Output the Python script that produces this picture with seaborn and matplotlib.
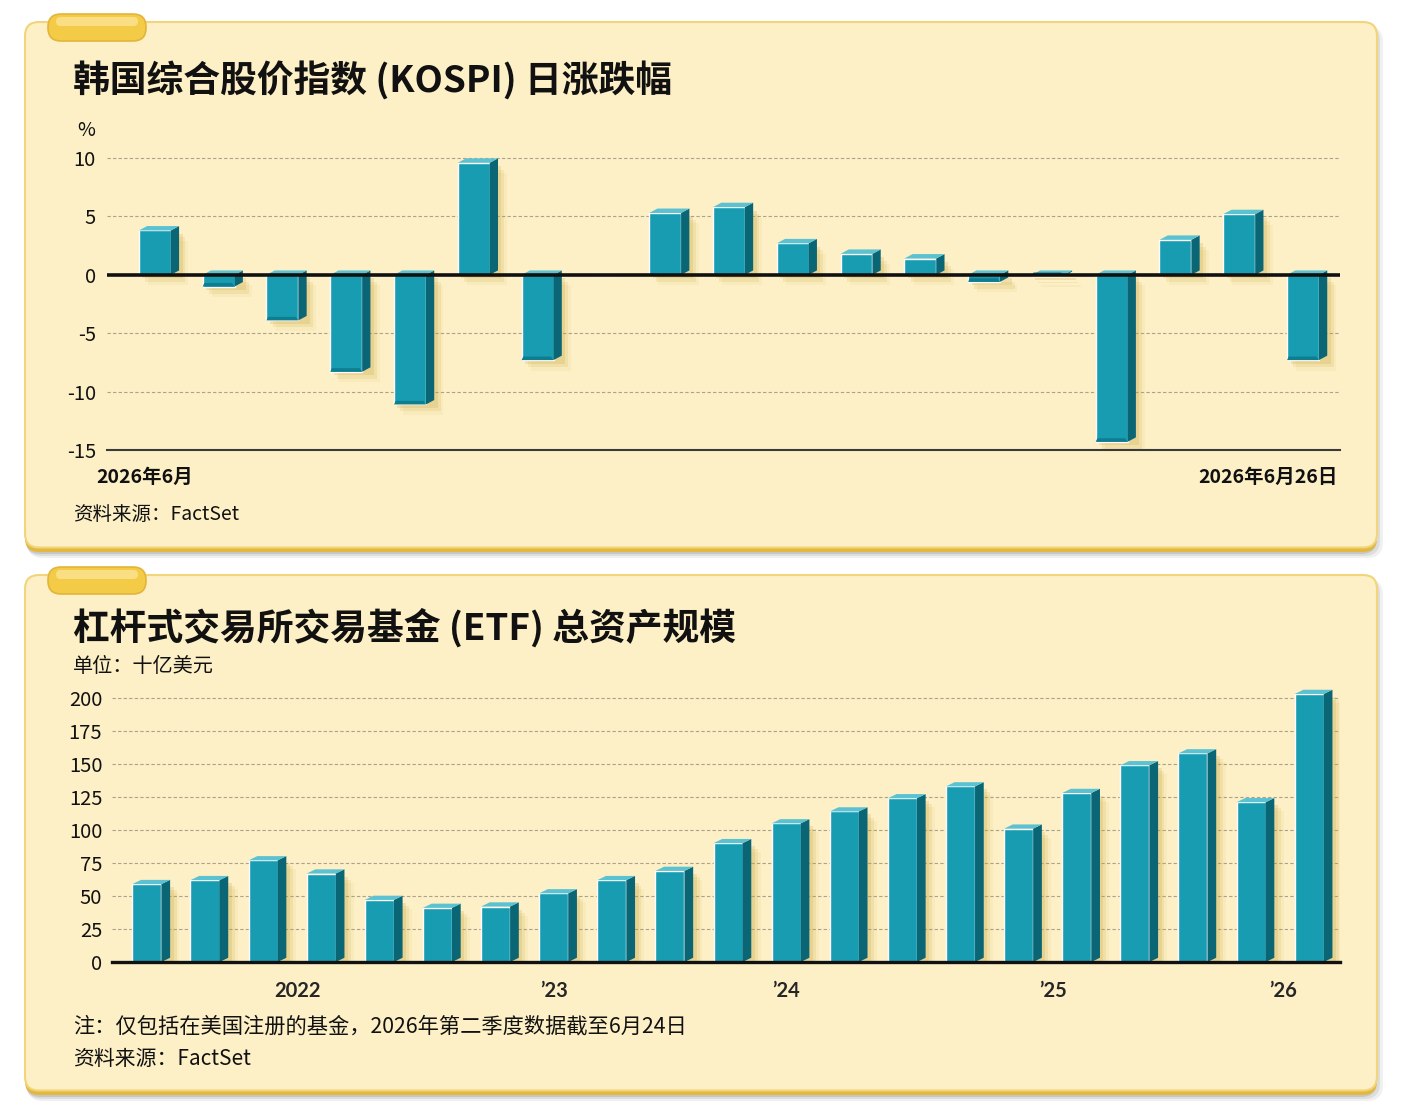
import numpy as np
import pandas as pd
import matplotlib
matplotlib.use("Agg")
import matplotlib.pyplot as plt
import seaborn as sns
from matplotlib.patches import FancyBboxPatch, Polygon, Rectangle

# KOSPI daily change, June 2026 (%)
kospi_days = ["6/1", "6/2", "6/4", "6/5", "6/8", "6/9", "6/10", "6/11", "6/12", "6/15",
              "6/16", "6/17", "6/18", "6/19", "6/22", "6/23", "6/24", "6/25", "6/26"]
kospi_change = [3.8, -1.0, -3.9, -8.3, -11.1, 9.6, -7.3, 0.0, 5.3, 5.8,
                2.7, 1.8, 1.4, -0.6, -0.1, -14.3, 3.0, 5.2, -7.3]

# leveraged ETF total assets, quarterly (billion USD)
etf_quarters = ["21Q2", "21Q3", "21Q4", "22Q1", "22Q2", "22Q3", "22Q4", "23Q1", "23Q2", "23Q3",
                "23Q4", "24Q1", "24Q2", "24Q3", "24Q4", "25Q1", "25Q2", "25Q3", "25Q4", "26Q1", "26Q2"]
etf_assets = [59, 62, 77, 67, 47, 41, 42, 52, 62, 69,
              90, 105, 114, 124, 133, 101, 128, 149, 158, 121, 203]
year_labels = ["2022", "\u201923", "\u201924", "\u201925", "\u201926"]

FRONT = "#179cb2"
SIDE = "#0a6575"
TOP = "#5cc2d1"
PANEL = "#fdf0c6"

sns.set_theme(style="white")
plt.rcParams["font.family"] = ["Noto Sans CJK SC", "DejaVu Sans"]

W, H = 1404, 1120
fig = plt.figure(figsize=(W / 100, H / 100), dpi=100)
fig.patch.set_facecolor("white")

# background layer in pixel units
bg = fig.add_axes([0, 0, 1, 1], zorder=-10)
bg.set_xlim(0, W)
bg.set_ylim(H, 0)
bg.axis("off")


def panel(y0, y1):
    for i, a in enumerate([0.10, 0.08, 0.06]):
        bg.add_patch(FancyBboxPatch((25 + i, y0 + 2 + i), 1352 + 2 * i, y1 - y0 + 2 + i,
                                    boxstyle="round,pad=0,rounding_size=16",
                                    fc="#000000", ec="none", alpha=a))
    bg.add_patch(FancyBboxPatch((25, y0 + 2), 1352, y1 - y0,
                                boxstyle="round,pad=0,rounding_size=14",
                                fc="#e2b93c", ec="none"))
    bg.add_patch(FancyBboxPatch((25, y0), 1352, y1 - y0 - 2.5,
                                boxstyle="round,pad=0,rounding_size=14",
                                fc=PANEL, ec="#f2d47a", lw=1.5))
    # tab
    bg.add_patch(FancyBboxPatch((48, y0 - 8), 98, 27,
                                boxstyle="round,pad=0,rounding_size=13",
                                fc="#f3cb47", ec="#e3b53a", lw=1.2))
    bg.add_patch(FancyBboxPatch((56, y0 - 5), 82, 9,
                                boxstyle="round,pad=0,rounding_size=4.5",
                                fc="#fbe394", ec="none", alpha=0.8))


panel(22, 550)
panel(575, 1093)


def bars_3d(ax, dx, dy, sdx, sdy):
    for p in list(ax.patches):
        x0, w = p.get_x(), p.get_width()
        y0, h = p.get_y(), p.get_height()
        if h == 0:
            continue
        x1 = x0 + w
        y_top, y_bot = max(y0, y0 + h), min(y0, y0 + h)
        # soft shadow
        for k, a in enumerate([0.22, 0.14, 0.08]):
            ax.add_patch(Rectangle((x0 + sdx * (0.6 + 0.5 * k), y_bot - sdy * (0.6 + 0.6 * k)),
                                   w + dx, y_top - y_bot,
                                   fc="#c9a43c", ec="none", alpha=a, zorder=0.8))
        ax.add_patch(Polygon([(x1, y_bot), (x1 + dx, y_bot + dy), (x1 + dx, y_top + dy), (x1, y_top)],
                             closed=True, fc=SIDE, ec="none", zorder=1.1))
        ax.add_patch(Polygon([(x0, y_top), (x0 + dx, y_top + dy), (x1 + dx, y_top + dy), (x1, y_top)],
                             closed=True, fc=TOP, ec="none", zorder=1.1))
        if h < 0:
            ax.add_patch(Polygon([(x0, y_bot), (x1, y_bot), (x1 - w * 0.08, y_bot + dy * 0.8),
                                  (x0 + w * 0.05, y_bot + dy * 0.8)],
                                 closed=True, fc="#0e7d8f", ec="none", zorder=1.2))


# ---------------- top chart ----------------
ax1 = fig.add_axes([107 / W, 1 - 450 / H, (1340 - 107) / W, (450 - 140) / H])
ax1.set_facecolor("none")
kospi = pd.DataFrame({"day": kospi_days, "change": kospi_change})
sns.barplot(data=kospi, x="day", y="change", color=FRONT, width=0.5,
            saturation=1, ax=ax1, zorder=1)
bars_3d(ax1, dx=0.13, dy=0.38, sdx=0.09, sdy=0.5)
ax1.set_xlim(-0.75, 18.58)
ax1.set_ylim(-15, 11.55)
ax1.set_yticks([-15, -10, -5, 0, 5, 10])
ax1.set_yticklabels(["-15", "-10", "-5", "0", "5", "10"])
ax1.set_xticks([-0.3, 0.42, 1.58, 2.71, 3.87, 5.03, 6.2, 7.38, 8.6, 9.87, 11.1,
                12.35, 13.6, 14.8, 16.1, 17.35, 18.3])
ax1.set_xticklabels([])
ax1.set_xlabel("")
ax1.set_ylabel("")
ax1.set_axisbelow(True)
ax1.yaxis.grid(True, ls=(0, (3, 2)), color="#aaa28c", lw=0.8)
ax1.axhline(0, color="#111111", lw=2.6, zorder=3)
for s in ["top", "right", "left"]:
    ax1.spines[s].set_visible(False)
ax1.spines["bottom"].set_color("#3a3a3a")
ax1.spines["bottom"].set_linewidth(1.5)
ax1.tick_params(axis="x", direction="out", length=6, width=1.2, color="#3a3a3a")
ax1.tick_params(axis="y", length=0, pad=8, labelsize=14.5, labelcolor="#111111")

fig.text(73 / W, 1 - 80 / H, "韩国综合股价指数 (KOSPI) 日涨跌幅", fontsize=26.5,
         fontweight="bold", va="center", ha="left", color="#111111")
fig.text(86 / W, 1 - 131 / H, "%", fontsize=14, va="center", ha="center", color="#111111")
fig.text(145 / W, 1 - 477 / H, "2026年6月", fontsize=14, fontweight="bold",
         va="center", ha="center", color="#111111")
fig.text(1338 / W, 1 - 477 / H, "2026年6月26日", fontsize=14, fontweight="bold",
         va="center", ha="right", color="#111111")
fig.text(73 / W, 1 - 515 / H, "资料来源：FactSet", fontsize=14, va="center",
         ha="left", color="#111111")

# ---------------- bottom chart ----------------
ax2 = fig.add_axes([112 / W, 1 - 962 / H, (1340 - 112) / W, (962 - 685) / H])
ax2.set_facecolor("none")
etf = pd.DataFrame({"quarter": etf_quarters, "assets": etf_assets})
sns.barplot(data=etf, x="quarter", y="assets", color=FRONT, width=0.5,
            saturation=1, ax=ax2, zorder=1)
bars_3d(ax2, dx=0.15, dy=3.2, sdx=0.1, sdy=3.8)
ax2.set_xlim(-0.6, 20.53)
ax2.set_ylim(0, 209.8)
ax2.set_yticks(range(0, 201, 25))
ax2.xaxis.remove_overlapping_locs = False
ax2.set_xticks(range(len(etf_quarters)))
ax2.set_xticklabels([])
ax2.set_xticks([2.6, 7, 11, 15.6, 19.55], minor=True)
ax2.set_xticklabels(year_labels, minor=True)
ax2.set_xlabel("")
ax2.set_ylabel("")
ax2.set_axisbelow(True)
ax2.yaxis.grid(True, ls=(0, (3, 2)), color="#aaa28c", lw=0.8)
for s in ["top", "right", "left"]:
    ax2.spines[s].set_visible(False)
ax2.spines["bottom"].set_color("#111111")
ax2.spines["bottom"].set_linewidth(2.4)
ax2.spines["bottom"].set_zorder(3)
ax2.tick_params(axis="x", which="both", direction="out", length=5, width=1.2,
                color="#333333", pad=9, labelsize=14.5)
for lab in ax2.get_xticklabels(minor=True):
    lab.set_fontweight("bold")
    lab.set_family(["Lato", "DejaVu Sans"])
ax2.tick_params(axis="y", length=0, pad=7, labelsize=14.5, labelcolor="#111111")

fig.text(73 / W, 1 - 628 / H, "杠杆式交易所交易基金 (ETF) 总资产规模", fontsize=26.5,
         fontweight="bold", va="center", ha="left", color="#111111")
fig.text(73 / W, 1 - 667 / H, "单位：十亿美元", fontsize=14.5, va="center",
         ha="left", color="#111111")
fig.text(73 / W, 1 - 1027 / H, "注：仅包括在美国注册的基金，2026年第二季度数据截至6月24日",
         fontsize=15.3, va="center", ha="left", color="#111111")
fig.text(73 / W, 1 - 1059 / H, "资料来源：FactSet", fontsize=15, va="center",
         ha="left", color="#111111")

fig.savefig("out.png", dpi=100, facecolor=fig.get_facecolor())
